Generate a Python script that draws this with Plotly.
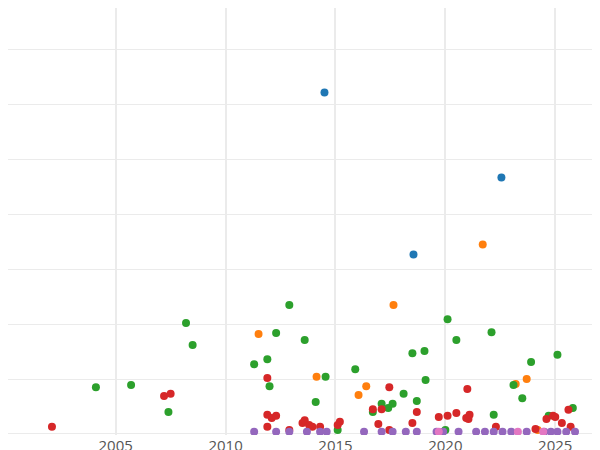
import plotly.graph_objects as go

# values (x = year, y = value)
blue_x = [2014.5, 2022.55, 2018.55]
blue_y = [6.22, 4.67, 3.27]

orange_x = [2011.5, 2014.14, 2016.05, 2016.4, 2017.64, 2021.7, 2023.2, 2023.7, 2024.2]
orange_y = [1.82, 1.04, 0.71, 0.87, 2.35, 3.45, 0.91, 1.0, 0.07]

green_x = [2004.1, 2005.7, 2008.2, 2008.5, 2007.4, 2011.3, 2011.9, 2012.0, 2012.3, 2012.9,
           2013.6, 2014.1, 2014.55, 2015.1, 2015.9, 2016.7, 2017.1, 2017.4, 2017.6, 2018.1,
           2018.5, 2018.7, 2019.05, 2019.1, 2020.1, 2020.5, 2022.1, 2022.2, 2023.1, 2023.5,
           2023.9, 2024.7, 2025.1, 2025.8, 2020.0]
green_y = [0.85, 0.89, 2.02, 1.62, 0.4, 1.27, 1.36, 0.87, 1.84, 2.35,
           1.71, 0.58, 1.04, 0.07, 1.18, 0.4, 0.55, 0.47, 0.55, 0.73,
           1.47, 0.6, 1.51, 0.98, 2.09, 1.71, 1.85, 0.35, 0.89, 0.65,
           1.31, 0.33, 1.44, 0.47, 0.07]

red_x = [2002.1, 2007.2, 2007.5, 2011.9, 2011.9, 2012.1, 2012.3, 2011.9, 2012.9, 2013.5,
         2013.6, 2013.8, 2013.95, 2014.3, 2015.1, 2015.2, 2016.7, 2016.95, 2017.1, 2017.45,
         2017.45, 2018.5, 2018.7, 2019.7, 2020.1, 2020.5, 2020.95, 2021.0, 2021.05, 2021.1,
         2022.3, 2024.1, 2024.6, 2024.9, 2025.0, 2025.3, 2025.6, 2025.7]
red_y = [0.13, 0.69, 0.73, 1.02, 0.35, 0.29, 0.33, 0.13, 0.07, 0.2,
         0.25, 0.16, 0.13, 0.13, 0.16, 0.22, 0.45, 0.18, 0.45, 0.85,
         0.07, 0.2, 0.4, 0.31, 0.33, 0.38, 0.29, 0.82, 0.27, 0.35,
         0.13, 0.09, 0.27, 0.33, 0.31, 0.2, 0.44, 0.13]

purple_x = [2011.3, 2012.3, 2012.9, 2013.7, 2014.3, 2014.6, 2016.3, 2017.1, 2017.6, 2018.2,
            2018.7, 2019.6, 2019.9, 2020.6, 2021.4, 2021.8, 2022.2, 2022.6, 2023.0, 2023.7,
            2024.5, 2024.8, 2025.1, 2025.5, 2025.9]
purple_y = [0.04] * len(purple_x)

pink_x = [2019.7, 2023.3, 2024.45]
pink_y = [0.04, 0.04, 0.04]

series = [
    (blue_x, blue_y, "#1f77b4"),
    (orange_x, orange_y, "#ff7f0e"),
    (green_x, green_y, "#2ca02c"),
    (red_x, red_y, "#d62728"),
    (purple_x, purple_y, "#9467bd"),
    (pink_x, pink_y, "#e377c2"),
]

fig = go.Figure()
for xs, ys, col in series:
    fig.add_trace(go.Scatter(x=xs, y=ys, mode="markers",
                             marker=dict(size=8, color=col), showlegend=False))

fig.update_layout(
    width=600, height=450,
    margin=dict(l=0, r=0, t=0, b=23, pad=0, autoexpand=False),
    plot_bgcolor="white", paper_bgcolor="white",
    font=dict(family="Open Sans", size=15, color="#555"),
    xaxis=dict(range=[2000.1, 2027.4], tickvals=[2005, 2010, 2015, 2020, 2025],
               ticklen=0, automargin=False,
               showgrid=True, gridcolor="#ebebeb", gridwidth=2, zeroline=False),
    yaxis=dict(range=[-0.02, 7.76], dtick=1, showticklabels=False, automargin=False,
               showgrid=True, gridcolor="#ebebeb", gridwidth=1, zeroline=False),
)

fig.write_html("out.html")
